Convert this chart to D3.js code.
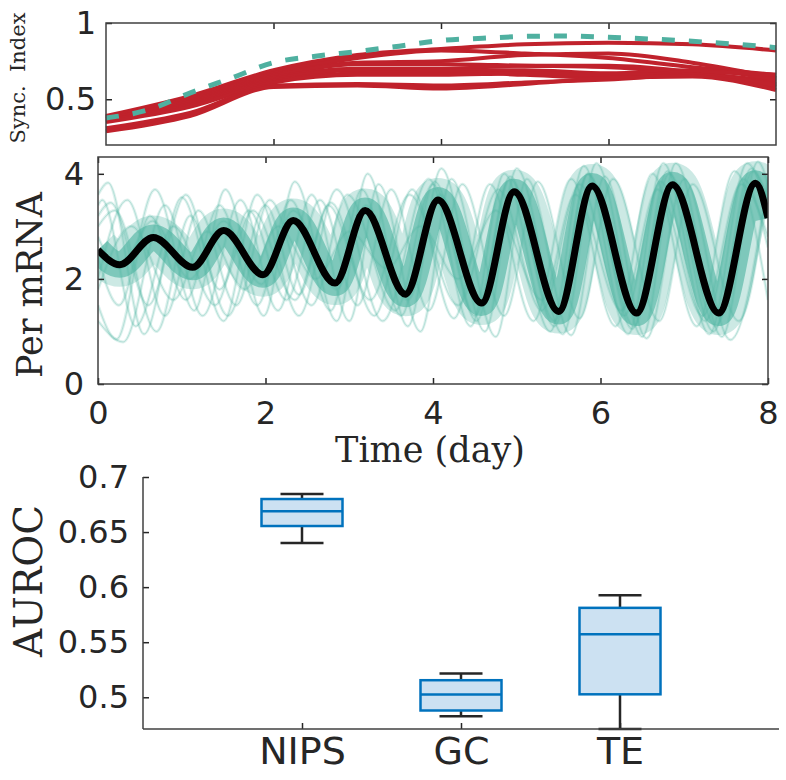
<!DOCTYPE html>
<html>
<head>
<meta charset="utf-8">
<script src="https://cdn.jsdelivr.net/npm/d3@7"></script>
<style>
body { margin: 0; background: #fff; }
</style>
</head>
<body>
<script>
var width = 786, height = 780;

// ---- top panel: synchronisation index ----
var syncT = [0, 0.5, 1, 1.5, 2, 2.5, 3, 3.5, 4, 4.5, 5, 5.5, 6, 6.5, 7, 7.5, 8];
var syncDash = [0.377, 0.43, 0.54, 0.64, 0.74, 0.782, 0.813, 0.848, 0.885, 0.90, 0.912, 0.915, 0.906, 0.895, 0.88, 0.862, 0.838];

var redT = [0, 1, 2, 3, 4, 5, 6, 7, 8];
var red1 = [0.39, 0.52, 0.69, 0.79, 0.83, 0.86, 0.87, 0.86, 0.82];
var red2 = [0.38, 0.51, 0.67, 0.77, 0.82, 0.80, 0.77, 0.71, 0.66];
var red3 = [0.38, 0.50, 0.66, 0.74, 0.75, 0.79, 0.80, 0.74, 0.64];
var red4 = [0.37, 0.49, 0.65, 0.73, 0.73, 0.72, 0.71, 0.67, 0.62];
var red5 = [0.37, 0.48, 0.64, 0.70, 0.70, 0.72, 0.72, 0.68, 0.60];
var red6 = [0.36, 0.47, 0.63, 0.69, 0.69, 0.69, 0.67, 0.69, 0.63];
var red7 = [0.36, 0.46, 0.62, 0.67, 0.68, 0.66, 0.64, 0.68, 0.66];
var red8 = [0.35, 0.45, 0.61, 0.66, 0.66, 0.67, 0.66, 0.66, 0.58];
var red9 = [0.31, 0.41, 0.59, 0.60, 0.59, 0.61, 0.63, 0.66, 0.59];
var red10 = [0.29, 0.39, 0.58, 0.59, 0.57, 0.60, 0.64, 0.65, 0.56];
var redLines = [red1, red2, red3, red4, red5, red6, red7, red8, red9, red10];

// ---- middle panel: Per mRNA (turning points of each trace) ----
var meanT = [0, 0.26, 0.66, 1.13, 1.5, 1.97, 2.33, 2.83, 3.19, 3.67, 4.06, 4.58, 4.97, 5.5, 5.9, 6.43, 6.86, 7.41, 7.85, 8];
var meanV = [2.55, 2.27, 2.79, 2.22, 2.92, 2.08, 3.11, 1.92, 3.3, 1.71, 3.5, 1.54, 3.66, 1.38, 3.77, 1.35, 3.79, 1.35, 3.82, 3.16];

var trace1 = [[0,3.6],[0.12,3.83],[0.55,0.95],[1.0,3.55],[1.5,1.2],[1.9,3.6],[2.4,1.3],[2.85,3.7],[3.4,1.2],[3.95,3.9],[4.45,1.1],[4.85,4.0],[5.4,1.0],[5.8,4.15],[6.33,0.95],[6.75,4.2],[7.3,0.95],[7.75,4.2],[8,3.3]];
var trace2 = [[0,1.2],[0.3,0.8],[0.8,3.4],[1.25,1.3],[1.7,3.5],[2.15,1.4],[2.55,3.6],[3.0,1.2],[3.35,3.8],[3.85,1.0],[4.22,3.9],[4.75,0.9],[5.12,3.9],[5.65,0.93],[6.05,3.95],[6.55,0.87],[7.0,3.9],[7.55,0.84],[8,3.88]];
var trace3 = [[0,2.0],[0.35,3.5],[0.8,1.3],[1.2,3.3],[1.65,1.5],[2.05,3.5],[2.55,1.5],[2.98,3.6],[3.55,1.4],[4.0,3.8],[4.5,1.3],[4.92,3.9],[5.45,1.2],[5.85,4.0],[6.4,1.1],[6.82,4.0],[7.38,1.1],[7.82,4.05],[8,3.4]];
var trace4 = [[0,3.0],[0.2,3.3],[0.7,1.0],[1.1,3.2],[1.55,1.3],[2.0,3.4],[2.4,1.7],[2.75,3.4],[3.25,1.6],[3.72,3.6],[4.3,1.5],[4.78,3.7],[5.3,1.4],[5.75,3.8],[6.28,1.3],[6.72,3.85],[7.25,1.2],[7.7,3.9],[8,2.6]];
var trace5 = [[0,2.8],[0.25,2.2],[0.65,3.1],[1.1,2.0],[1.5,3.1],[1.95,1.9],[2.33,3.3],[2.85,1.8],[3.2,3.4],[3.7,1.6],[4.08,3.6],[4.6,1.5],[5.0,3.7],[5.52,1.4],[5.92,3.8],[6.45,1.35],[6.88,3.85],[7.43,1.3],[7.87,3.85],[8,3.3]];
var trace6 = [[0,2.4],[0.25,1.5],[0.68,3.7],[1.15,1.4],[1.52,3.7],[1.98,1.3],[2.35,3.85],[2.85,1.2],[3.22,4.0],[3.7,1.1],[4.1,4.1],[4.62,1.0],[5.0,4.1],[5.55,0.95],[5.95,4.2],[6.5,0.9],[6.9,4.2],[7.45,0.9],[7.88,4.23],[8,3.8]];
var trace7 = [[0,3.4],[0.05,3.5],[0.45,1.1],[0.9,3.0],[1.4,1.5],[1.8,3.3],[2.25,1.6],[2.65,3.5],[3.1,1.5],[3.5,3.7],[3.95,1.4],[4.35,3.8],[4.85,1.3],[5.25,3.85],[5.75,1.25],[6.15,3.9],[6.7,1.2],[7.1,3.8],[7.65,1.2],[8,3.9]];
var trace8 = [[0,1.8],[0.4,3.0],[0.9,1.6],[1.3,2.9],[1.75,1.8],[2.15,3.0],[2.6,2.0],[3.0,2.9],[3.45,2.2],[3.85,3.0],[4.3,2.0],[4.75,3.3],[5.3,1.6],[5.7,3.6],[6.25,1.4],[6.68,3.7],[7.22,1.3],[7.68,3.8],[8,2.8]];
var trace9 = [[0,1.5],[0.22,0.85],[0.62,3.2],[1.05,1.6],[1.45,3.4],[1.9,1.5],[2.3,3.5],[2.78,1.4],[3.15,3.7],[3.62,1.3],[4.02,3.85],[4.52,1.2],[4.92,3.95],[5.45,1.1],[5.85,4.0],[6.38,1.05],[6.8,4.05],[7.35,1.0],[7.8,4.1],[8,3.5]];
var trace10 = [[0,3.2],[0.15,3.45],[0.6,1.5],[1.05,3.6],[1.45,1.8],[1.85,3.3],[2.35,1.6],[2.78,3.45],[3.3,1.3],[3.75,3.7],[4.25,1.25],[4.68,3.8],[5.2,1.2],[5.65,3.9],[6.18,1.1],[6.62,4.0],[7.15,1.1],[7.6,4.05],[8,1.6]];
var traces = [trace1, trace2, trace3, trace4, trace5, trace6, trace7, trace8, trace9, trace10];

// ---- bottom panel: AUROC box plot ----
var methods = ["NIPS", "GC", "TE"];
var whiskLo = [0.640, 0.4827, 0.4712];
var q1 = [0.6555, 0.488, 0.5027];
var med = [0.669, 0.5025, 0.5573];
var q3 = [0.680, 0.5155, 0.5812];
var whiskHi = [0.6845, 0.5215, 0.5927];

var axisCol = "#262626";
var tickFont = "DejaVu Sans";
var labelFont = "DejaVu Serif";
var teal = "#55b7a5";

var svg = d3.select("body").append("svg")
    .attr("width", width)
    .attr("height", height);

function styleAxis(g, size) {
  g.attr("font-family", tickFont).attr("font-size", size).attr("color", axisCol);
  g.selectAll("line").attr("stroke-width", 1.5);
  g.select(".domain").remove();
}

// ===== top =====
var x1 = d3.scaleLinear().domain([0, 8]).range([106, 776]);
var y1 = d3.scaleLinear().domain([0.2, 1]).range([145, 23]);

svg.append("g").attr("transform", "translate(106,0)")
  .call(d3.axisLeft(y1).tickValues([0.5, 1]).tickFormat(d3.format("")).tickSize(-6).tickPadding(10))
  .call(styleAxis, 32);
svg.append("g").attr("transform", "translate(776,0)")
  .call(d3.axisRight(y1).tickValues([0.5, 1]).tickFormat("").tickSize(-6))
  .call(styleAxis, 32);
svg.append("g").attr("transform", "translate(0,145)")
  .call(d3.axisBottom(x1).tickValues([2, 4, 6]).tickFormat("").tickSize(-6))
  .call(styleAxis, 32);
svg.append("g").attr("transform", "translate(0,23)")
  .call(d3.axisTop(x1).tickValues([2, 4, 6]).tickFormat("").tickSize(-6))
  .call(styleAxis, 32);

var redLine = d3.line()
  .x(function(d, i) { return x1(redT[i]); })
  .y(function(d) { return y1(d); })
  .curve(d3.curveMonotoneX);

svg.append("g").selectAll("path")
  .data(redLines)
  .enter().append("path")
  .attr("d", redLine)
  .attr("fill", "none")
  .attr("stroke", "#c0222c")
  .attr("stroke-width", 4);

svg.append("path")
  .attr("d", d3.line()
    .x(function(d, i) { return x1(syncT[i]); })
    .y(function(d) { return y1(d); })
    .curve(d3.curveMonotoneX)(syncDash))
  .attr("fill", "none")
  .attr("stroke", "#4fb0a0")
  .attr("stroke-width", 5)
  .attr("stroke-dasharray", "13,14");

svg.append("rect")
  .attr("x", 106).attr("y", 23).attr("width", 670).attr("height", 122)
  .attr("fill", "none").attr("stroke", "#404040").attr("stroke-width", 1.5);

svg.append("text")
  .attr("transform", "translate(25,78) rotate(-90)")
  .attr("text-anchor", "middle")
  .attr("font-family", labelFont)
  .attr("font-size", 21)
  .attr("fill", axisCol)
  .attr("xml:space", "preserve")
  .text("Sync.  Index");

// ===== middle =====
var x2 = d3.scaleLinear().domain([0, 8]).range([98, 768]);
var y2 = d3.scaleLinear().domain([0, 4.32]).range([384, 157]);

svg.append("defs").append("clipPath").attr("id", "clipMid")
  .append("rect").attr("x", 98).attr("y", 157).attr("width", 670).attr("height", 227);

var mid = svg.append("g").attr("clip-path", "url(#clipMid)");

var meanLine = d3.line()
  .x(function(d, i) { return x2(meanT[i]); })
  .y(function(d) { return y2(d); })
  .curve(d3.curveMonotoneX);

var traceLine = d3.line()
  .x(function(d) { return x2(d[0]); })
  .y(function(d) { return y2(d[1]); })
  .curve(d3.curveMonotoneX);

// wide soft bundle around the population mean
mid.append("path")
  .attr("d", meanLine(meanV))
  .attr("fill", "none")
  .attr("stroke", teal)
  .attr("stroke-opacity", 0.3)
  .attr("stroke-width", 44);
mid.append("path")
  .attr("d", meanLine(meanV))
  .attr("fill", "none")
  .attr("stroke", teal)
  .attr("stroke-opacity", 0.65)
  .attr("stroke-width", 26);

mid.append("g").selectAll("path")
  .data(traces)
  .enter().append("path")
  .attr("d", traceLine)
  .attr("fill", "none")
  .attr("stroke", teal)
  .attr("stroke-opacity", 0.2)
  .attr("stroke-width", 3);

mid.append("g").selectAll("path")
  .data(traces)
  .enter().append("path")
  .attr("d", traceLine)
  .attr("fill", "none")
  .attr("stroke", teal)
  .attr("stroke-opacity", 0.3)
  .attr("stroke-width", 1);

mid.append("path")
  .attr("d", meanLine(meanV))
  .attr("fill", "none")
  .attr("stroke", "#000")
  .attr("stroke-width", 7);

svg.append("g").attr("transform", "translate(98,0)")
  .call(d3.axisLeft(y2).tickValues([0, 2, 4]).tickFormat(d3.format("d")).tickSize(-6).tickPadding(14))
  .call(styleAxis, 32);
svg.append("g").attr("transform", "translate(768,0)")
  .call(d3.axisRight(y2).tickValues([0, 2, 4]).tickFormat("").tickSize(-6))
  .call(styleAxis, 32);
svg.append("g").attr("transform", "translate(0,384)")
  .call(d3.axisBottom(x2).tickValues([0, 2, 4, 6, 8]).tickFormat(d3.format("d")).tickSize(-6).tickPadding(17))
  .call(styleAxis, 32);
svg.append("g").attr("transform", "translate(0,157)")
  .call(d3.axisTop(x2).tickValues([0, 2, 4, 6, 8]).tickFormat("").tickSize(-6))
  .call(styleAxis, 32);

svg.append("rect")
  .attr("x", 98).attr("y", 157).attr("width", 670).attr("height", 227)
  .attr("fill", "none").attr("stroke", "#404040").attr("stroke-width", 1.5);

svg.append("text")
  .attr("transform", "translate(42,285) rotate(-90)")
  .attr("text-anchor", "middle")
  .attr("font-family", labelFont)
  .attr("font-size", 35)
  .attr("fill", axisCol)
  .text("Per mRNA");

svg.append("text")
  .attr("x", 430).attr("y", 462)
  .attr("text-anchor", "middle")
  .attr("font-family", labelFont)
  .attr("font-size", 35)
  .attr("fill", axisCol)
  .text("Time (day)");

// ===== bottom =====
var x3 = d3.scaleLinear().domain([0, 4]).range([143, 779]);
var y3 = d3.scaleLinear().domain([0.4712, 0.7]).range([729, 477]);
var boxW = 81, capW = 43;

var boxes = svg.append("g").selectAll("g")
  .data(methods)
  .enter().append("g");

boxes.append("line")
  .attr("x1", function(d, i) { return x3(i + 1); })
  .attr("x2", function(d, i) { return x3(i + 1); })
  .attr("y1", function(d, i) { return y3(whiskHi[i]); })
  .attr("y2", function(d, i) { return y3(whiskLo[i]); })
  .attr("stroke", axisCol).attr("stroke-width", 2.5);
boxes.append("line")
  .attr("x1", function(d, i) { return x3(i + 1) - capW / 2; })
  .attr("x2", function(d, i) { return x3(i + 1) + capW / 2; })
  .attr("y1", function(d, i) { return y3(whiskHi[i]); })
  .attr("y2", function(d, i) { return y3(whiskHi[i]); })
  .attr("stroke", axisCol).attr("stroke-width", 2.5);
boxes.append("line")
  .attr("x1", function(d, i) { return x3(i + 1) - capW / 2; })
  .attr("x2", function(d, i) { return x3(i + 1) + capW / 2; })
  .attr("y1", function(d, i) { return y3(whiskLo[i]); })
  .attr("y2", function(d, i) { return y3(whiskLo[i]); })
  .attr("stroke", axisCol).attr("stroke-width", 2.5);
boxes.append("rect")
  .attr("x", function(d, i) { return x3(i + 1) - boxW / 2; })
  .attr("y", function(d, i) { return y3(q3[i]); })
  .attr("width", boxW)
  .attr("height", function(d, i) { return y3(q1[i]) - y3(q3[i]); })
  .attr("fill", "#cce1f2")
  .attr("stroke", "#0072bd").attr("stroke-width", 2.5);
boxes.append("line")
  .attr("x1", function(d, i) { return x3(i + 1) - boxW / 2; })
  .attr("x2", function(d, i) { return x3(i + 1) + boxW / 2; })
  .attr("y1", function(d, i) { return y3(med[i]); })
  .attr("y2", function(d, i) { return y3(med[i]); })
  .attr("stroke", "#0072bd").attr("stroke-width", 2.5);

svg.append("g").attr("transform", "translate(143,0)")
  .call(d3.axisLeft(y3).tickValues([0.5, 0.55, 0.6, 0.65, 0.7]).tickFormat(d3.format("")).tickSize(-6).tickPadding(14))
  .call(styleAxis, 32);
svg.append("g").attr("transform", "translate(0,729)")
  .call(d3.axisBottom(x3).tickValues([1, 2, 3]).tickFormat(function(d) { return methods[d - 1]; }).tickSize(-6).tickPadding(8))
  .call(styleAxis, 38);

svg.append("line").attr("x1", 143).attr("x2", 143).attr("y1", 477).attr("y2", 729)
  .attr("stroke", "#404040").attr("stroke-width", 1.5);
svg.append("line").attr("x1", 143).attr("x2", 779).attr("y1", 729).attr("y2", 729)
  .attr("stroke", "#404040").attr("stroke-width", 1.5);

svg.append("text")
  .attr("transform", "translate(42,581) rotate(-90)")
  .attr("text-anchor", "middle")
  .attr("font-family", labelFont)
  .attr("font-size", 39)
  .attr("fill", axisCol)
  .text("AUROC");
</script>
</body>
</html>
